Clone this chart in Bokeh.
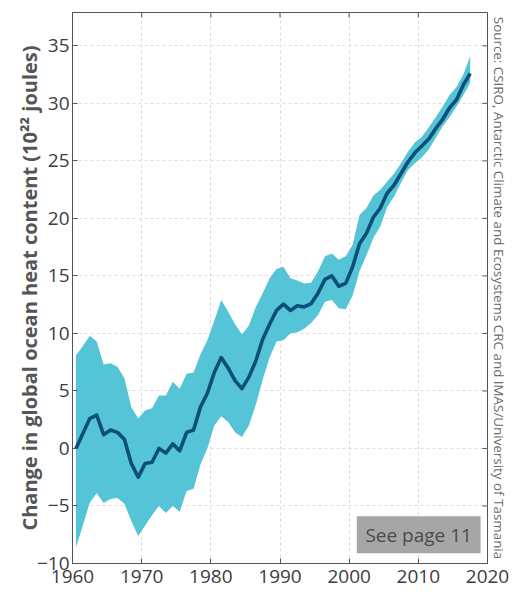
import math
from bokeh.plotting import figure
from bokeh.models import FixedTicker, Range1d, Label, BoxAnnotation, LinearAxis
from bokeh.embed import file_html
from bokeh.resources import INLINE

# ---- data ----
years = list(range(1960, 2018))
heat = [0.0, 1.3, 2.6, 2.9, 1.2, 1.6, 1.4, 0.8, -1.3, -2.5,
        -1.3, -1.2, 0.0, -0.4, 0.4, -0.2, 1.4, 1.6, 3.6, 4.8,
        6.6, 7.9, 7.0, 5.9, 5.2, 6.2, 7.6, 9.5, 10.8, 12.0,
        12.55, 12.0, 12.4, 12.3, 12.6, 13.5, 14.7, 15.0, 14.1, 14.35,
        15.8, 17.8, 18.7, 20.1, 20.9, 22.2, 22.9, 23.9, 24.9, 25.7,
        26.3, 26.9, 27.8, 28.6, 29.6, 30.3, 31.6, 32.6]
upper = [8.1, 8.9, 9.8, 9.3, 7.3, 7.4, 7.1, 6.1, 3.6, 2.6,
         3.3, 3.5, 4.6, 4.6, 5.8, 5.2, 6.5, 6.6, 8.2, 9.4,
         11.1, 12.9, 11.9, 10.8, 9.9, 10.7, 12.3, 13.5, 14.8, 15.6,
         15.8, 14.8, 14.6, 14.35, 14.4, 15.4, 16.7, 16.96, 16.4, 16.7,
         17.7, 20.3, 20.9, 22.0, 22.5, 23.2, 23.9, 24.8, 25.8, 26.6,
         27.1, 27.9, 28.8, 29.7, 30.7, 31.4, 32.5, 34.1]
lower = [-8.6, -6.7, -4.7, -3.9, -4.75, -4.4, -4.3, -4.8, -6.3, -7.6,
         -6.7, -5.8, -5.0, -5.6, -5.0, -5.5, -3.7, -3.5, -1.4, 0.0,
         2.0, 2.8, 2.3, 1.4, 1.0, 2.0, 3.8, 6.0, 7.9, 9.3,
         9.4, 10.0, 10.1, 10.4, 10.9, 11.6, 12.75, 12.9, 12.2, 12.1,
         13.3, 15.4, 16.8, 18.3, 19.3, 21.0, 21.9, 23.1, 24.2, 24.8,
         25.3, 26.0, 27.0, 28.0, 28.8, 29.7, 30.7, 31.8]
x_ticks = [1960, 1970, 1980, 1990, 2000, 2010, 2020]
y_ticks = [-10, -5, 0, 5, 10, 15, 20, 25, 30, 35]
y_label = "Change in global ocean heat content (10\u00b2\u00b2 joules)"
source_text = "Source: CSIRO, Antarctic Climate and Ecosystems CRC and IMAS/University of Tasmania"
note_text = "See page 11"

X_MIN, X_MAX = 1960, 2020
Y_MIN, Y_MAX = -10, 37.9

# annual values plotted at mid-year
xs = [y + 0.5 for y in years]

FONT = "Open Sans"
AXIS_COL = "#555555"
TICK_COL = "#3d3d3d"

p = figure(width=523, height=595, output_backend="svg", toolbar_location=None,
           x_range=Range1d(X_MIN, X_MAX), y_range=Range1d(Y_MIN, Y_MAX),
           min_border_left=72, min_border_right=36, min_border_top=12,
           min_border_bottom=32)
p.background_fill_color = "white"
p.border_fill_color = "white"
p.outline_line_color = AXIS_COL

p.varea(x=xs, y1=lower, y2=upper, fill_color="#54C4D6")
p.line(xs, heat, line_color="#0B4F79", line_width=3.6, line_join="round")

for ax in (p.xaxis[0], p.yaxis[0]):
    ax.major_tick_in = 5
    ax.major_tick_out = 0
    ax.minor_tick_line_color = None
    ax.axis_line_color = AXIS_COL
    ax.major_tick_line_color = AXIS_COL
    ax.major_label_text_font = FONT
    ax.major_label_text_font_size = "19px"
    ax.major_label_text_color = TICK_COL

p.xaxis.ticker = FixedTicker(ticks=x_ticks)
p.yaxis.ticker = FixedTicker(ticks=y_ticks)
p.xaxis.major_label_standoff = 6
p.yaxis.major_label_standoff = 3
p.yaxis.major_label_overrides = {-10: "\u221210", -5: "\u22125"}
p.yaxis.axis_label = y_label
p.yaxis.axis_label_text_font = FONT
p.yaxis.axis_label_text_font_style = "bold"
p.yaxis.axis_label_text_font_size = "20px"
p.yaxis.axis_label_text_color = AXIS_COL
p.yaxis.axis_label_standoff = -9

# inward tick marks on the right and top edges of the frame
p.ray(x=[X_MAX] * len(y_ticks), y=y_ticks, length=5, length_units="screen",
      angle=math.pi, line_color=AXIS_COL, line_width=1)
p.ray(x=x_ticks, y=[Y_MAX] * len(x_ticks), length=5, length_units="screen",
      angle=-math.pi / 2, line_color=AXIS_COL, line_width=1)

for g in (p.xgrid[0], p.ygrid[0]):
    g.grid_line_color = "#dcdcdc"
    g.grid_line_dash = "3 3"
    g.grid_line_width = 1

box = BoxAnnotation(left=2001.1, right=2019.0, bottom=-9.1, top=-5.9,
                    fill_color="#a6a6a6", fill_alpha=1.0, line_color=None)
p.add_layout(box)
p.add_layout(Label(x=2010.05, y=-7.5, text=note_text, text_align="center",
                   text_baseline="middle", text_font=FONT,
                   text_font_size="19px", text_color="#4a4a4a"))

# source note, drawn as the label of a tickless axis on the right
src_axis = LinearAxis(ticker=FixedTicker(ticks=[]), axis_line_color=None,
                      major_tick_line_color=None, minor_tick_line_color=None,
                      major_tick_in=0, major_tick_out=0, major_label_standoff=0,
                      axis_label=source_text, axis_label_standoff=2,
                      axis_label_text_font=FONT, axis_label_text_font_size="13.4px",
                      axis_label_text_font_style="normal",
                      axis_label_text_color="#6a6a6a")
p.add_layout(src_axis, "right")

open("out.html", "w").write(file_html(p, INLINE))
